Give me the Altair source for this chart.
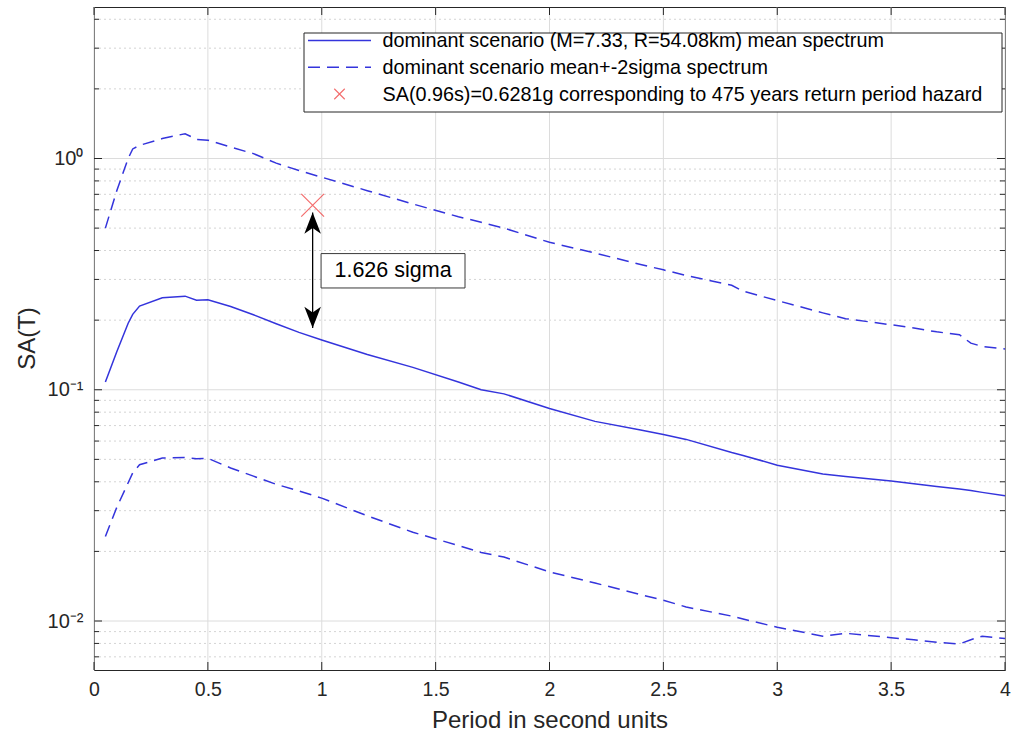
import altair as alt
import pandas as pd

# ---------------- data ----------------
periods = [0.05, 0.1, 0.15, 0.17, 0.2, 0.3, 0.4, 0.45, 0.5, 0.6, 0.7, 0.8, 0.9, 1.0,
           1.2, 1.4, 1.6, 1.7, 1.8, 2.0, 2.2, 2.4, 2.5, 2.6, 2.8, 2.85, 3.0, 3.2, 3.3,
           3.5, 3.6, 3.7, 3.8, 3.85, 3.9, 4.0]
mean_sa = [0.108, 0.146, 0.194, 0.212, 0.230, 0.250, 0.254, 0.244, 0.245, 0.229, 0.211,
           0.193, 0.177, 0.164, 0.142, 0.125, 0.108, 0.100, 0.096, 0.083, 0.073, 0.067,
           0.064, 0.061, 0.0535, 0.052, 0.0472, 0.0432, 0.0422, 0.0403, 0.0392, 0.0382,
           0.0372, 0.0367, 0.0360, 0.0348]
upper_sa = [0.50, 0.726, 1.00, 1.10, 1.14, 1.22, 1.28, 1.21, 1.20, 1.12, 1.05, 0.955,
            0.887, 0.83, 0.726, 0.636, 0.56, 0.53, 0.50, 0.434, 0.39, 0.348, 0.33, 0.312,
            0.283, 0.267, 0.243, 0.215, 0.203, 0.191, 0.185, 0.178, 0.173, 0.159, 0.154,
            0.150]
lower_sa = [0.0232, 0.031, 0.0396, 0.0437, 0.0474, 0.0507, 0.0509, 0.0503, 0.0505, 0.0459,
            0.0423, 0.039, 0.0365, 0.034, 0.0285, 0.0242, 0.0212, 0.0198, 0.0189, 0.0163,
            0.0146, 0.013, 0.0123, 0.0115, 0.0105, 0.0102, 0.0094, 0.0086, 0.00885,
            0.00847, 0.0083, 0.0081, 0.00796, 0.0083, 0.0086, 0.0084]

hazard_T = [0.96]
hazard_sa = [0.6281]
arrow_top = [0.584]
arrow_bottom = [0.185]
sigma_text = ["1.626 sigma"]
sigma_box_T = [0.997, 1.629]
sigma_box_sa = [0.2755, 0.388]

legend_labels = [
    "dominant scenario (M=7.33, R=54.08km) mean spectrum",
    "dominant scenario mean+-2sigma spectrum",
    "SA(0.96s)=0.6281g corresponding to 475 years return period hazard",
]

x_ticks = [0, 0.5, 1, 1.5, 2, 2.5, 3, 3.5, 4]
y_major = [0.01, 0.1, 1]
y_domain = [0.00614, 4.52]
y_minor = [k * 10.0 ** e for e in (-3, -2, -1, 0) for k in range(2, 10)
           if y_domain[0] <= k * 10.0 ** e <= y_domain[1]]

# ---------------- layout ----------------
W, H = 911, 663
FONT = "Liberation Sans"
BLUE = "#3434dc"
RED = "#f03030"
FRAME = "#262626"

xs = alt.Scale(domain=[0, 4], nice=False, zero=False)
ys = alt.Scale(type="log", domain=y_domain, nice=False)

x_axis = alt.Axis(values=x_ticks, labelExpr="'' + datum.value", labelPadding=10,
                  labelFlush=False, labelOverlap=False,
                  title="Period in second units", titleY=50, titleBaseline="middle",
                  labelFontSize=19.5, titleFontSize=24)
y_axis = alt.Axis(values=y_major,
                  labelExpr="datum.value >= 1 ? '10\u2070' : (datum.value >= 0.1 ? '10\u207b\u00b9' : '10\u207b\u00b2')",
                  labelPadding=11, labelFontSize=20, labelFlush=False,
                  title="SA(T)", titleX=-67, titleY=331, titleAngle=270,
                  titleBaseline="middle", titleAlign="center", titleFontSize=24)


def X(f):
    return alt.X(f, scale=xs, axis=x_axis)


def Y(f):
    return alt.Y(f, scale=ys, axis=y_axis)


curves = pd.DataFrame({"T": periods, "mean": mean_sa, "upper": upper_sa, "lower": lower_sa})
long = curves.melt("T", var_name="series", value_name="SA")
one = pd.DataFrame({"a": [0]})

# grid lines
minor_grid = alt.Chart(pd.DataFrame({"v": y_minor})).mark_rule(
    color="#d4d4d4", strokeWidth=1, strokeDash=[2, 3]).encode(
    y=Y("v:Q"), x=alt.value(0), x2=alt.value(W))
major_grid_y = alt.Chart(pd.DataFrame({"v": y_major})).mark_rule(
    color="#dcdcdc", strokeWidth=1).encode(
    y=Y("v:Q"), x=alt.value(0), x2=alt.value(W))
major_grid_x = alt.Chart(pd.DataFrame({"t": x_ticks})).mark_rule(
    color="#dcdcdc", strokeWidth=1).encode(
    x=X("t:Q"), y=alt.value(0), y2=alt.value(H))


# inward ticks
def yticks(vals, length):
    d = pd.DataFrame({"v": vals})
    left = alt.Chart(d).mark_rule(color=FRAME, strokeWidth=1).encode(
        y=Y("v:Q"), x=alt.value(0), x2=alt.value(length))
    right = alt.Chart(d).mark_rule(color=FRAME, strokeWidth=1).encode(
        y=Y("v:Q"), x=alt.value(W - length), x2=alt.value(W))
    return [left, right]


dx = pd.DataFrame({"t": x_ticks})
bottom_ticks = alt.Chart(dx).mark_rule(color=FRAME, strokeWidth=1).encode(
    x=X("t:Q"), y=alt.value(H - 8), y2=alt.value(H))
top_ticks = alt.Chart(dx).mark_rule(color=FRAME, strokeWidth=1).encode(
    x=X("t:Q"), y=alt.value(0), y2=alt.value(8))

# curves
mean_line = alt.Chart(long[long.series == "mean"]).mark_line(
    color=BLUE, strokeWidth=1.5).encode(x=X("T:Q"), y=Y("SA:Q"))
band_lines = alt.Chart(long[long.series != "mean"]).mark_line(
    color=BLUE, strokeWidth=1.5, strokeDash=[12, 7]).encode(
    x=X("T:Q"), y=Y("SA:Q"), detail="series:N")

# hazard point (red x)
XSHAPE = "M-1,-1L1,1M1,-1L-1,1"
hz = pd.DataFrame({"T": hazard_T, "SA": hazard_sa})
hazard = alt.Chart(hz).mark_point(shape=XSHAPE, size=520, color=RED, strokeWidth=1.2,
                                  filled=False).encode(x=X("T:Q"), y=Y("SA:Q"))

# double arrow
arr = pd.DataFrame({"T": hazard_T, "top": arrow_top, "bot": arrow_bottom})
arrow_line = alt.Chart(arr).mark_rule(color="black", strokeWidth=1.3).encode(
    x=X("T:Q"), y=Y("top:Q"), y2="bot:Q")
UP = "M0,0L0.7,1.8L0,1.3L-0.7,1.8Z"
DOWN = "M0,0L0.7,-1.8L0,-1.3L-0.7,-1.8Z"
head_up = alt.Chart(arr).mark_point(shape=UP, size=560, filled=True, color="black",
                                    opacity=1).encode(x=X("T:Q"), y=Y("top:Q"))
head_down = alt.Chart(arr).mark_point(shape=DOWN, size=560, filled=True, color="black",
                                      opacity=1).encode(x=X("T:Q"), y=Y("bot:Q"))

# text box
box = pd.DataFrame({"x1": [sigma_box_T[0]], "x2": [sigma_box_T[1]],
                    "y1": [sigma_box_sa[0]], "y2": [sigma_box_sa[1]],
                    "tx": [(sigma_box_T[0] + sigma_box_T[1]) / 2],
                    "ty": [(sigma_box_sa[0] * sigma_box_sa[1]) ** 0.5],
                    "label": sigma_text})
sigma_rect = alt.Chart(box).mark_rect(fill="white", stroke="#3a3a3a", strokeWidth=1).encode(
    x=X("x1:Q"), x2="x2:Q", y=Y("y1:Q"), y2="y2:Q")
sigma_label = alt.Chart(box).mark_text(font=FONT, fontSize=21.5, color="black",
                                       align="center", baseline="middle").encode(
    x=X("tx:Q"), y=Y("ty:Q"), text="label:N")

# legend (drawn in pixel space)
LX0, LX1, LY0, LY1 = 210, 908, 26, 105
leg_box = alt.Chart(one).mark_rect(fill="white", stroke=FRAME, strokeWidth=1).encode(
    x=alt.value(LX0), x2=alt.value(LX1), y=alt.value(LY0), y2=alt.value(LY1))
row_y = [33.5, 60.2, 87.0]
leg_solid = alt.Chart(one).mark_rule(color=BLUE, strokeWidth=1.5).encode(
    x=alt.value(214), x2=alt.value(277), y=alt.value(row_y[0]))
leg_dash = alt.Chart(one).mark_rule(color=BLUE, strokeWidth=1.5, strokeDash=[12, 7]).encode(
    x=alt.value(214), x2=alt.value(277), y=alt.value(row_y[1]))
leg_x = alt.Chart(one).mark_point(shape=XSHAPE, size=110, color=RED, strokeWidth=1.1,
                                  filled=False).encode(
    x=alt.value(245.5), y=alt.value(row_y[2]))
leg_text = []
for lbl, ry in zip(legend_labels, row_y):
    leg_text.append(alt.Chart(one).mark_text(
        font=FONT, fontSize=19.8, color="black", align="left", baseline="middle",
        text=lbl).encode(x=alt.value(288.5), y=alt.value(ry + 0.5)))

layers = [minor_grid, major_grid_y, major_grid_x]
layers += yticks(y_major, 8) + yticks(y_minor, 5)
layers += [bottom_ticks, top_ticks, band_lines, mean_line, arrow_line, head_up, head_down,
           hazard, sigma_rect, sigma_label, leg_box, leg_solid, leg_dash, leg_x] + leg_text

chart = alt.layer(*layers).properties(
    width=W, height=H,
    autosize=alt.AutoSizeParams(type="none"),
    padding={"left": 94, "top": 7, "right": 6, "bottom": 70},
    background="white",
).configure_view(stroke=FRAME, strokeWidth=1).configure_axis(
    grid=False, ticks=False, domain=False,
    labelFont=FONT, titleFont=FONT, labelColor=FRAME, titleColor=FRAME,
    titleFontWeight="normal",
)

chart.save("out.html", embed_options={"renderer": "svg", "actions": False})
